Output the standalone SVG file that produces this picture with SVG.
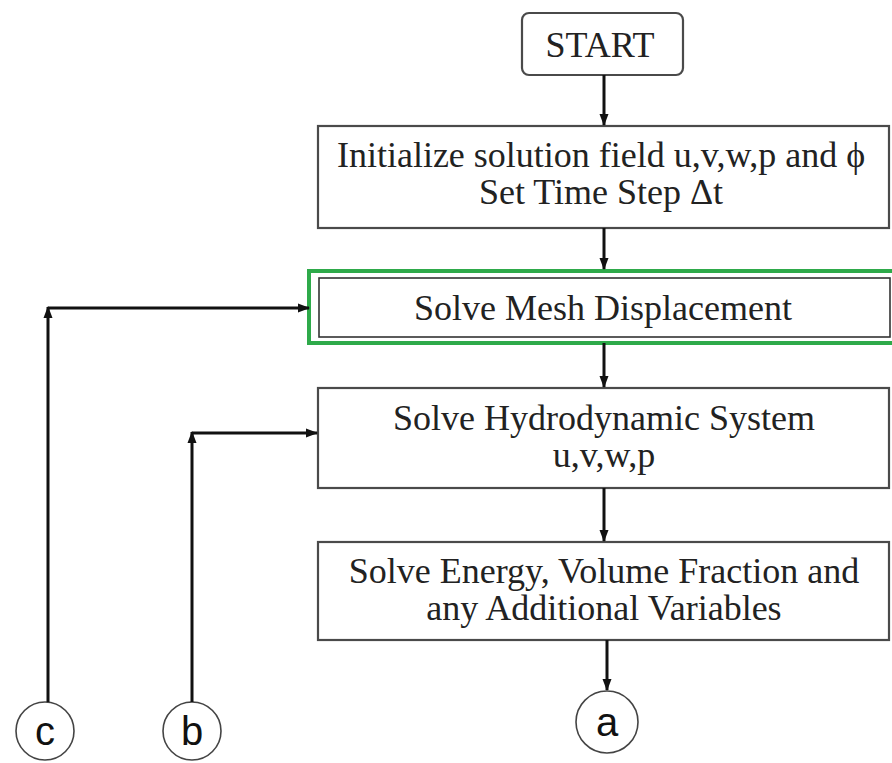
<svg xmlns="http://www.w3.org/2000/svg" width="892" height="763" viewBox="0 0 892 763">
<style>
.box{fill:#fff;stroke:#4a4a4a;stroke-width:2.2}
.t{font-family:"Liberation Serif","Times New Roman",serif;font-size:36px;fill:#222;text-anchor:middle}
.s{font-family:"Liberation Sans",Arial,sans-serif;font-size:40px;fill:#111;text-anchor:middle}
.circ{fill:#fff;stroke:#444;stroke-width:1.6}
.con{fill:none;stroke:#111;stroke-width:3}
</style>
<defs>
<marker id="ah" markerUnits="userSpaceOnUse" markerWidth="12" markerHeight="12" viewBox="0 0 12 12" refX="11" refY="6" orient="auto">
<path d="M0,1.5 L12,6 L0,10.5 z" fill="#111"/>
</marker>
</defs>
<rect width="892" height="763" fill="#fff"/>
<g id="start">
<rect class="box" x="522" y="13" width="161" height="62" rx="7"/>
<text class="t" x="600" y="57">START</text>
</g>
<g id="init">
<rect class="box" x="318" y="126" width="571" height="102"/>
<text class="t" x="601" y="167">Initialize solution field u,v,w,p and ϕ</text>
<text class="t" x="601" y="204">Set Time Step Δt</text>
</g>
<g id="mesh">
<rect x="309" y="271" width="590" height="72" fill="none" stroke="#2eaa4a" stroke-width="4"/>
<rect x="319" y="278" width="571" height="59" fill="#fff" stroke="#333" stroke-width="1.6"/>
<text class="t" x="603" y="320">Solve Mesh Displacement</text>
</g>
<g id="hydro">
<rect class="box" x="318" y="388" width="571" height="100"/>
<text class="t" x="604" y="430">Solve Hydrodynamic System</text>
<text class="t" x="604" y="467">u,v,w,p</text>
</g>
<g id="energy">
<rect class="box" x="318" y="542" width="571" height="98"/>
<text class="t" x="604" y="583">Solve Energy, Volume Fraction and</text>
<text class="t" x="604" y="620">any Additional Variables</text>
</g>
<g id="a">
<circle class="circ" cx="607" cy="722" r="31"/>
<text class="s" x="607" y="736">a</text>
</g>
<g id="b">
<circle class="circ" cx="192" cy="731" r="29"/>
<text class="s" x="192" y="745">b</text>
</g>
<g id="c">
<circle class="circ" cx="45" cy="731" r="29"/>
<text class="s" x="45" y="745">c</text>
</g>
<g id="connectors">
<path class="con" d="M604 75 V125" marker-end="url(#ah)"/>
<path class="con" d="M604 228 V269" marker-end="url(#ah)"/>
<path class="con" d="M604 343 V387" marker-end="url(#ah)"/>
<path class="con" d="M604 488 V541" marker-end="url(#ah)"/>
<path class="con" d="M607 640 V690" marker-end="url(#ah)"/>
<path class="con" d="M48 702 V307" marker-end="url(#ah)"/>
<path class="con" d="M48 308 H309" marker-end="url(#ah)"/>
<path class="con" d="M192 702 V432" marker-end="url(#ah)"/>
<path class="con" d="M192 433 H317" marker-end="url(#ah)"/>
</g>
</svg>
